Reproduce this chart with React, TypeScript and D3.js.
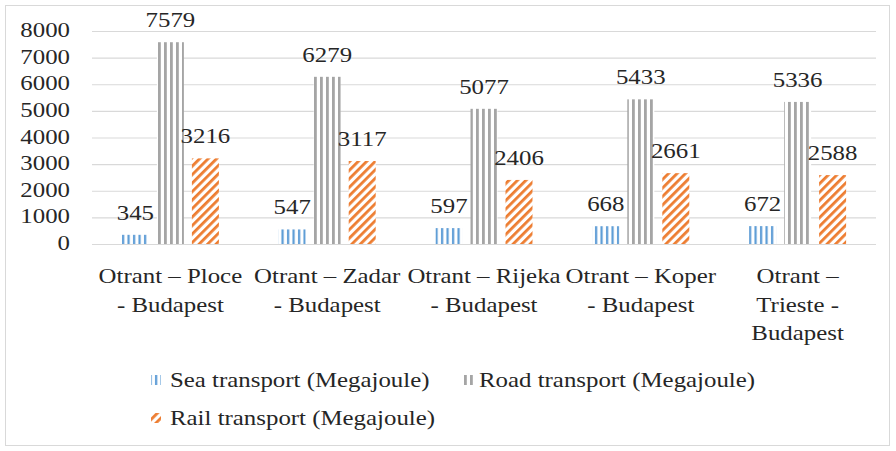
import React, { useEffect, useRef } from 'react'
import * as d3 from 'd3'

const categories = [
  ['Otrant – Ploce', '- Budapest'],
  ['Otrant – Zadar', '- Budapest'],
  ['Otrant – Rijeka', '- Budapest'],
  ['Otrant – Koper', '- Budapest'],
  ['Otrant –', 'Trieste -', 'Budapest'],
]
const seaValues = [345, 547, 597, 668, 672]
const roadValues = [7579, 6279, 5077, 5433, 5336]
const railValues = [3216, 3117, 2406, 2661, 2588]
const yTicks = [0, 1000, 2000, 3000, 4000, 5000, 6000, 7000, 8000]
const seriesNames = ['Sea transport (Megajoule)', 'Road transport (Megajoule)', 'Rail transport (Megajoule)']

const W = 896
const H = 451
const FONT = "'Liberation Serif', 'Times New Roman', Times, serif"
const FS = 22
const SX = 1.13

const App = () => {
  const svgRef = useRef<SVGSVGElement>(null)

  useEffect(() => {
    document.body.style.margin = '0'
    const svg = d3.select(svgRef.current)
    svg.selectAll('*').remove()

    const defs = svg.append('defs')
    // sea: thin blue vertical lines
    const ps = defs.append('pattern').attr('id', 'pSea').attr('patternUnits', 'userSpaceOnUse')
      .attr('width', 5.5).attr('height', 10)
    ps.append('rect').attr('width', 5.5).attr('height', 10).attr('fill', '#fff')
    ps.append('rect').attr('x', 1).attr('width', 2.2).attr('height', 10).attr('fill', '#5B9BD5')
    // road: gray vertical stripes
    const pr = defs.append('pattern').attr('id', 'pRoad').attr('patternUnits', 'userSpaceOnUse')
      .attr('width', 6).attr('height', 10)
    pr.append('rect').attr('width', 6).attr('height', 10).attr('fill', '#fff')
    pr.append('rect').attr('x', 2).attr('width', 2.8).attr('height', 10).attr('fill', '#A5A5A5')
    // rail: orange diagonal stripes
    const pl = defs.append('pattern').attr('id', 'pRail').attr('patternUnits', 'userSpaceOnUse')
      .attr('width', 6).attr('height', 6).attr('patternTransform', 'rotate(45)')
    pl.append('rect').attr('width', 6).attr('height', 6).attr('fill', '#fff')
    pl.append('rect').attr('width', 2.8).attr('height', 6).attr('fill', '#ED7D31')

    svg.append('rect').attr('x', 5.5).attr('y', 5.5).attr('width', 884).attr('height', 440)
      .attr('fill', '#fff').attr('stroke', '#D9D9D9')

    const y = d3.scaleLinear().domain([0, 8000]).range([244, 31])
    const x = d3.scaleBand<number>().domain(d3.range(categories.length)).range([92, 876])

    const txt = (g: any, tx: number, ty: number, s: string, anchor = 'middle', baseline = 'auto') =>
      g.append('text').attr('transform', `translate(${tx},${ty}) scale(${SX},1)`)
        .attr('text-anchor', anchor).attr('dominant-baseline', baseline)
        .style('font-family', FONT).style('font-size', `${FS}px`).attr('fill', '#262626').text(s)

    // grid
    yTicks.forEach(t => {
      svg.append('line').attr('x1', 92).attr('x2', 876).attr('y1', y(t) + 0.5).attr('y2', y(t) + 0.5)
        .attr('stroke', '#D9D9D9').attr('stroke-width', 1.2)
      txt(svg, 70, y(t) + 1, String(t), 'end', 'middle')
    })

    const series = [
      { vals: seaValues, fill: 'url(#pSea)', off: -35 },
      { vals: roadValues, fill: 'url(#pRoad)', off: 0 },
      { vals: railValues, fill: 'url(#pRail)', off: 35 },
    ]
    const bw = 27
    series.forEach(s => {
      s.vals.forEach((v, i) => {
        const cx = x(i)! + x.bandwidth() / 2 + s.off
        svg.append('rect').attr('x', cx - bw / 2).attr('y', y(v)).attr('width', bw)
          .attr('height', y(0) - y(v)).attr('fill', s.fill)
        txt(svg, cx, y(v) - 15, String(v))
      })
    })

    categories.forEach((lines, i) => {
      const cx = x(i)! + x.bandwidth() / 2
      lines.forEach((l, j) => txt(svg, cx, 283 + j * 28.5, l))
    })

    // legend
    const leg = [
      { mx: 151, tx: 170, ty: 387, fill: 'url(#pSea)' },
      { mx: 463, tx: 479, ty: 387, fill: 'url(#pRoad)' },
      { mx: 151, tx: 170, ty: 425, fill: 'url(#pRail)' },
    ]
    leg.forEach((l, i) => {
      svg.append('rect').attr('x', l.mx).attr('y', l.ty - 12).attr('width', 10).attr('height', 10).attr('fill', l.fill)
      txt(svg, l.tx, l.ty, seriesNames[i], 'start')
    })
  }, [])

  return <svg ref={svgRef} width={W} height={H} style={{ display: 'block' }} />
}

export default App
